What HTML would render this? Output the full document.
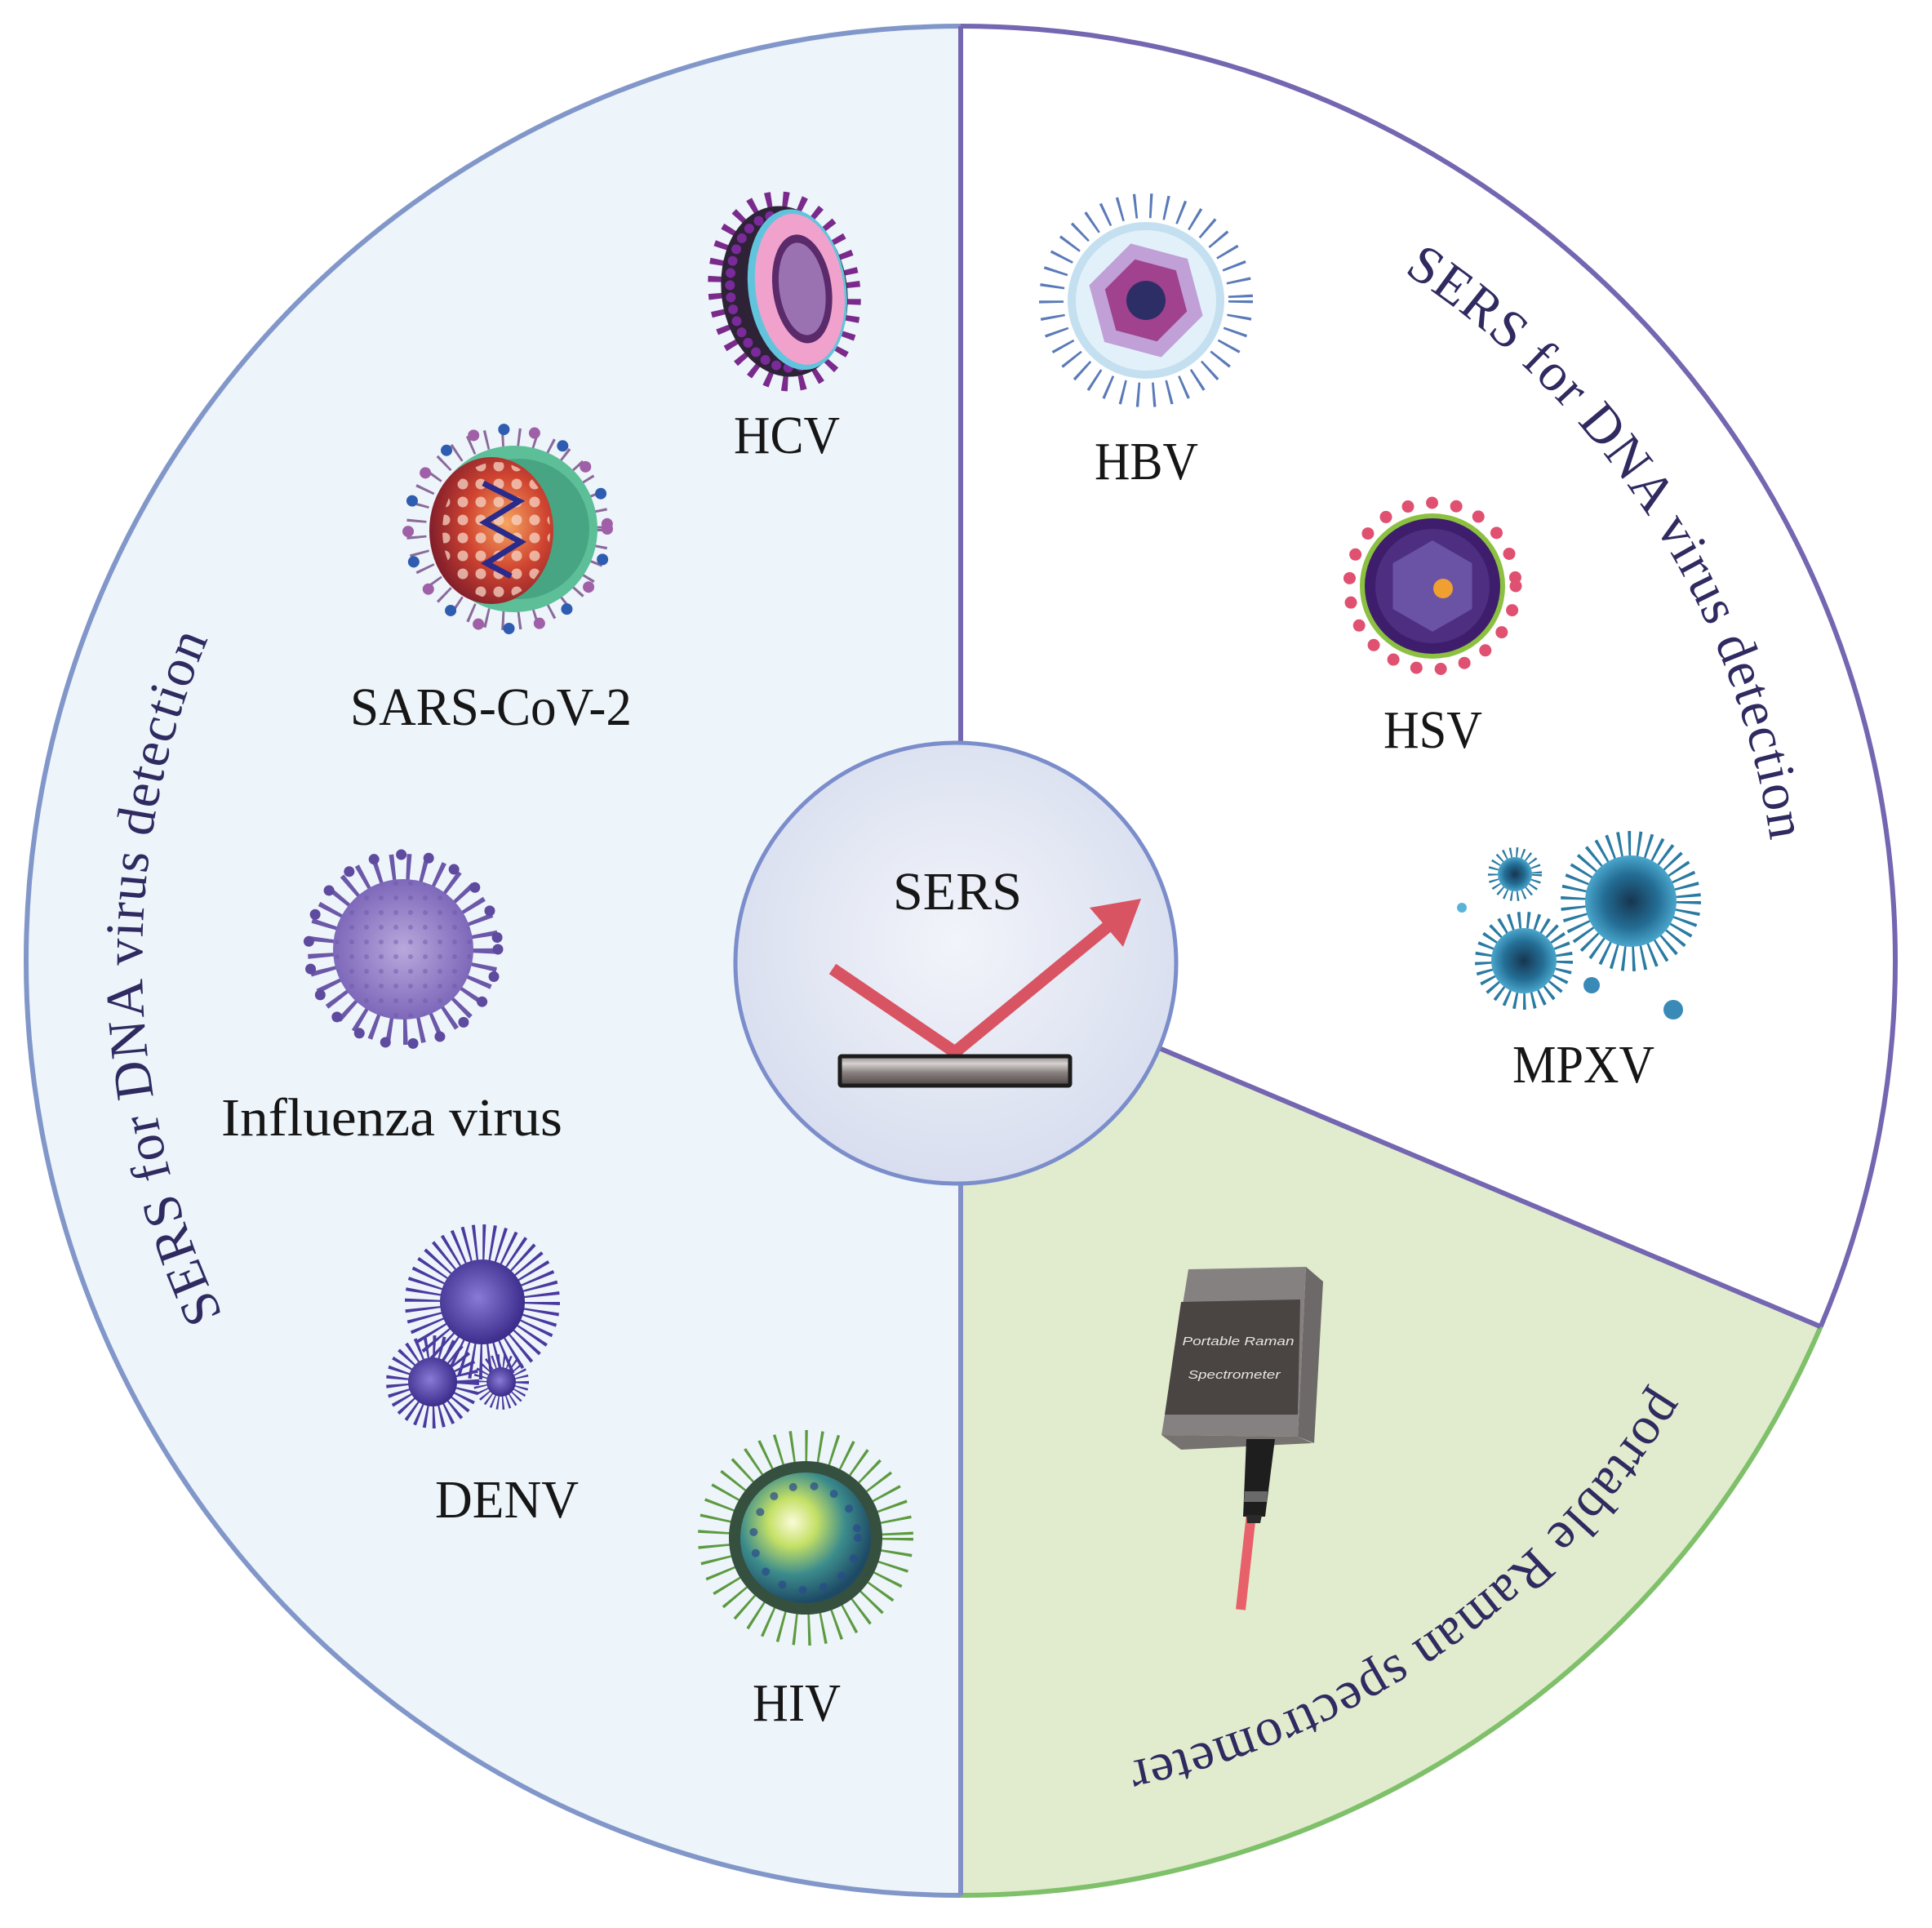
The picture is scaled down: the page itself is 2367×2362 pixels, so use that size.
<!DOCTYPE html>
<html><head><meta charset="utf-8">
<style>
html,body{margin:0;padding:0;background:#fff;}
svg{display:block;}
.lbl{font-family:"Liberation Serif",serif;font-size:66px;fill:#161616;}
.arc{font-family:"Liberation Serif",serif;font-size:66px;fill:#2f2a60;letter-spacing:1.5px;}
.dev{font-family:"Liberation Sans",sans-serif;font-style:italic;font-size:15px;fill:#e6e6e6;}
</style></head><body>
<svg width="2367" height="2362" viewBox="0 0 2367 2362" xmlns="http://www.w3.org/2000/svg">
<defs>
 <radialGradient id="ig" cx="50%" cy="45%" r="55%">
  <stop offset="0" stop-color="#f2f4fa"/><stop offset="1" stop-color="#d8deef"/>
 </radialGradient>
 <linearGradient id="bar" x1="0" y1="0" x2="0" y2="1">
  <stop offset="0" stop-color="#8c8583"/><stop offset="0.25" stop-color="#d6d2d1"/><stop offset="0.55" stop-color="#8a8381"/><stop offset="1" stop-color="#4c4544"/>
 </linearGradient>
 <radialGradient id="sars" cx="62%" cy="45%" r="65%">
  <stop offset="0" stop-color="#f6a560"/><stop offset="0.5" stop-color="#d04430"/><stop offset="1" stop-color="#7a1a2a"/>
 </radialGradient>
 <pattern id="dots" width="22" height="22" patternUnits="userSpaceOnUse"><circle cx="11" cy="11" r="6.5" fill="#f6d4c4"/></pattern>
 <radialGradient id="flu" cx="50%" cy="50%" r="50%">
  <stop offset="0" stop-color="#b8a8dc"/><stop offset="1" stop-color="#7e68ba"/>
 </radialGradient>
 <pattern id="fludots" width="18" height="18" patternUnits="userSpaceOnUse"><circle cx="9" cy="9" r="3" fill="#6a54a8" opacity="0.45"/></pattern>
 <radialGradient id="denv" cx="45%" cy="45%" r="55%">
  <stop offset="0" stop-color="#8a7ad6"/><stop offset="1" stop-color="#3c2c8c"/>
 </radialGradient>
 <radialGradient id="hiv" cx="40%" cy="38%" r="62%">
  <stop offset="0" stop-color="#fbfbd8"/><stop offset="0.3" stop-color="#c4e066"/><stop offset="0.65" stop-color="#3c8c8c"/><stop offset="1" stop-color="#1e4a66"/>
 </radialGradient>
 <radialGradient id="mpx" cx="50%" cy="50%" r="50%">
  <stop offset="0" stop-color="#163650"/><stop offset="0.6" stop-color="#246e96"/><stop offset="1" stop-color="#4aa6cc"/>
 </radialGradient>
 <path id="pl" d="M1110.5,2177.8 A1003,1003 0 0 1 1068.7,179.9"/>
 <path id="pr" d="M709.2,289.8 A1003,1003 0 0 1 1791.8,1969.5"/>
 <path id="pb" d="M2044.7,674.0 A1003,1003 0 0 1 409.8,1823.1"/>
</defs>

<!-- backgrounds -->
<rect width="2367" height="2362" fill="#ffffff"/>
<path d="M1177,32 A1145,1145 0 0 0 1177,2322 Z" fill="#edf4fa"/>
<path d="M1177,1177 L2230.6,1625.3 A1145,1145 0 0 1 1177,2322 Z" fill="#e1ecce"/>

<!-- outer strokes -->
<path d="M1177,32 A1145,1145 0 0 0 1177,2322" fill="none" stroke="#8297c9" stroke-width="6"/>
<path d="M1177,32 A1145,1145 0 0 1 2230.6,1625.3" fill="none" stroke="#7466b0" stroke-width="6"/>
<path d="M2230.6,1625.3 A1145,1145 0 0 1 1177,2322" fill="none" stroke="#7fc06a" stroke-width="6"/>
<line x1="1177" y1="32" x2="1177" y2="912" stroke="#7466b0" stroke-width="6"/>
<line x1="1177" y1="1448" x2="1177" y2="2322" stroke="#8290c8" stroke-width="6"/>
<line x1="1420" y1="1284" x2="2230.6" y2="1625.3" stroke="#7466b0" stroke-width="6"/>

<!-- center SERS circle -->
<circle cx="1171" cy="1180" r="270" fill="url(#ig)" stroke="#7b8dca" stroke-width="5"/>
<text class="lbl" x="1094" y="1114" textLength="158" lengthAdjust="spacingAndGlyphs">SERS</text>
<polyline points="1020,1187 1170,1289 1356,1136" fill="none" stroke="#d95462" stroke-width="15" stroke-linejoin="miter"/>
<polygon points="1398,1101 1335,1112 1376,1160" fill="#d95462"/>
<rect x="1029" y="1294" width="282" height="36" rx="2" fill="url(#bar)" stroke="#1c1c1c" stroke-width="5"/>

<!-- HCV -->
<g transform="translate(961,357) rotate(-8)">
 <ellipse rx="84" ry="114" fill="none" stroke="#7a2a8a" stroke-width="18" stroke-dasharray="7 14"/>
 <ellipse rx="77" ry="105" fill="#2e2236"/>
 <ellipse rx="66" ry="94" fill="none" stroke="#7a2a9a" stroke-width="12" stroke-linecap="round" stroke-dasharray="0 15"/>
 <ellipse cx="16" rx="60" ry="99" fill="#62c4dc"/>
 <ellipse cx="19" rx="54" ry="93" fill="#f0a2cc"/>
 <ellipse cx="22" rx="36" ry="67" fill="#5a2a6a"/>
 <ellipse cx="22" rx="28" ry="57" fill="#9a72b2"/>
</g>

<!-- SARS-CoV-2 -->
<g transform="translate(622,648)">
 <circle r="112" fill="none" stroke="#8a6a9a" stroke-width="24" stroke-dasharray="3 17"/>
 <circle r="122" fill="none" stroke="#a060a8" stroke-width="14" stroke-linecap="round" stroke-dasharray="0 76"/>
 <circle r="122" fill="none" stroke="#2e5cb0" stroke-width="14" stroke-linecap="round" stroke-dasharray="0 76" stroke-dashoffset="38"/>
 <circle cx="8" r="102" fill="#5cbf98"/>
 <circle cx="14" r="86" fill="#3f9a7c" opacity="0.7"/>
 <ellipse cx="-20" cy="2" rx="76" ry="90" fill="url(#sars)"/>
 <ellipse cx="-14" cy="2" rx="66" ry="84" fill="url(#dots)" opacity="0.75"/>
 <polyline points="-30,-56 14,-34 -28,-8 16,16 -26,42 4,58" fill="none" stroke="#2a2a8a" stroke-width="7"/>
</g>

<!-- Influenza -->
<g transform="translate(494,1163)">
 <circle r="100" fill="none" stroke="#6c58a8" stroke-width="34" stroke-dasharray="5 14"/>
 <circle r="116" fill="none" stroke="#5e4a9e" stroke-width="13" stroke-linecap="round" stroke-dasharray="0 34"/>
 <circle r="86" fill="url(#flu)"/>
 <circle r="84" fill="url(#fludots)"/>
</g>

<!-- DENV -->
<g transform="translate(591,1595)">
 <circle r="70" fill="none" stroke="#4a3a9e" stroke-width="50" stroke-dasharray="3 7"/>
 <circle r="52" fill="url(#denv)"/>
</g>
<g transform="translate(530,1693)">
 <circle r="42" fill="none" stroke="#4a3a9e" stroke-width="30" stroke-dasharray="3 6"/>
 <circle r="30" fill="url(#denv)"/>
</g>
<g transform="translate(614,1693)">
 <circle r="25" fill="none" stroke="#4a3a9e" stroke-width="18" stroke-dasharray="2 4"/>
 <circle r="18" fill="url(#denv)"/>
</g>

<!-- HIV -->
<g transform="translate(987,1884)">
 <circle r="112" fill="none" stroke="#5c9a40" stroke-width="40" stroke-dasharray="3 14"/>
 <circle r="94" fill="#35503f"/>
 <circle r="80" fill="url(#hiv)"/>
 <circle r="64" fill="none" stroke="#2a4a8a" stroke-width="10" stroke-linecap="round" stroke-dasharray="0 26" opacity="0.7"/>
</g>

<!-- HBV -->
<g transform="translate(1404,368)">
 <circle r="116" fill="none" stroke="#5a7ab8" stroke-width="30" stroke-dasharray="3 16"/>
 <circle r="96" fill="#c4e0f0"/>
 <circle r="86" fill="#e2f1f9"/>
 <polygon points="72,0 36,62.4 -36,62.4 -72,0 -36,-62.4 36,-62.4" fill="#c0a0d6" transform="rotate(15)"/>
 <polygon points="52,0 26,45 -26,45 -52,0 -26,-45 26,-45" fill="#a0428e" transform="rotate(15)"/>
 <circle r="24" fill="#2e2e66"/>
</g>

<!-- HSV -->
<g transform="translate(1755,718)">
 <circle r="102" fill="none" stroke="#e05070" stroke-width="15" stroke-linecap="round" stroke-dasharray="0 30"/>
 <circle r="89" fill="#8cc040"/>
 <circle r="83" fill="#3e1e6c"/>
 <circle r="70" fill="#4e2e80"/>
 <polygon points="0,-56 48.5,-28 48.5,28 0,56 -48.5,28 -48.5,-28" fill="#6a52a4"/>
 <circle cx="13" cy="3" r="12" fill="#f0a030"/>
</g>

<!-- MPXV -->
<g transform="translate(1998,1104)">
 <circle r="66" fill="none" stroke="#2a7aa2" stroke-width="40" stroke-dasharray="3 8"/>
 <circle r="56" fill="url(#mpx)"/>
</g>
<g transform="translate(1867,1177)">
 <circle r="46" fill="none" stroke="#2a7aa2" stroke-width="28" stroke-dasharray="3 7"/>
 <circle r="40" fill="url(#mpx)"/>
</g>
<g transform="translate(1856,1071)">
 <circle r="25" fill="none" stroke="#2a7aa2" stroke-width="16" stroke-dasharray="2 5"/>
 <circle r="21" fill="url(#mpx)"/>
</g>
<circle cx="1950" cy="1207" r="10" fill="#3a8ab8"/>
<circle cx="2050" cy="1237" r="12" fill="#3a8ab8"/>
<circle cx="1791" cy="1112" r="6" fill="#5ab4d8"/>

<!-- Portable Raman spectrometer -->
<g>
 <polygon points="1600,1552 1621,1570 1610,1768 1590,1760" fill="#6c6968"/>
 <polygon points="1456,1555 1600,1552 1590,1760 1423,1758" fill="#858180"/>
 <polygon points="1423,1758 1590,1760 1608,1768 1447,1776" fill="#76726f"/>
 <polygon points="1447,1595 1593,1592 1590,1733 1427,1733" fill="#4a4442"/>
 <text class="dev" x="1517" y="1648" text-anchor="middle" textLength="137" lengthAdjust="spacingAndGlyphs">Portable Raman</text>
 <text class="dev" x="1512" y="1689" text-anchor="middle" textLength="113" lengthAdjust="spacingAndGlyphs">Spectrometer</text>
 <line x1="1533" y1="1855" x2="1520" y2="1972" stroke="#e8606a" stroke-width="12"/>
 <polygon points="1527,1763 1562,1763 1550,1858 1523,1858" fill="#1e1e1e"/>
 <polygon points="1525,1827 1553,1827 1552,1840 1524,1840" fill="#6a6a6a"/>
 <polygon points="1527,1856 1546,1856 1544,1866 1528,1866" fill="#2a2a2a"/>
</g>

<!-- labels -->
<text class="lbl" x="899" y="555" textLength="130" lengthAdjust="spacingAndGlyphs">HCV</text>
<text class="lbl" x="1341" y="587" textLength="127" lengthAdjust="spacingAndGlyphs">HBV</text>
<text class="lbl" x="429" y="888" textLength="345" lengthAdjust="spacingAndGlyphs">SARS-CoV-2</text>
<text class="lbl" x="1695" y="916" textLength="121" lengthAdjust="spacingAndGlyphs">HSV</text>
<text class="lbl" x="271" y="1391" textLength="418" lengthAdjust="spacingAndGlyphs">Influenza virus</text>
<text class="lbl" x="1853" y="1326" textLength="174" lengthAdjust="spacingAndGlyphs">MPXV</text>
<text class="lbl" x="533" y="1859" textLength="176" lengthAdjust="spacingAndGlyphs">DENV</text>
<text class="lbl" x="922" y="2108" textLength="108" lengthAdjust="spacingAndGlyphs">HIV</text>

<!-- arc texts -->
<text class="arc"><textPath href="#pl" startOffset="50%" text-anchor="middle">SERS for DNA virus detection</textPath></text>
<text class="arc"><textPath href="#pr" startOffset="50%" text-anchor="middle">SERS for DNA virus detection</textPath></text>
<text class="arc"><textPath href="#pb" startOffset="50%" text-anchor="middle">portable Raman spectrometer</textPath></text>
</svg>
</body></html>
